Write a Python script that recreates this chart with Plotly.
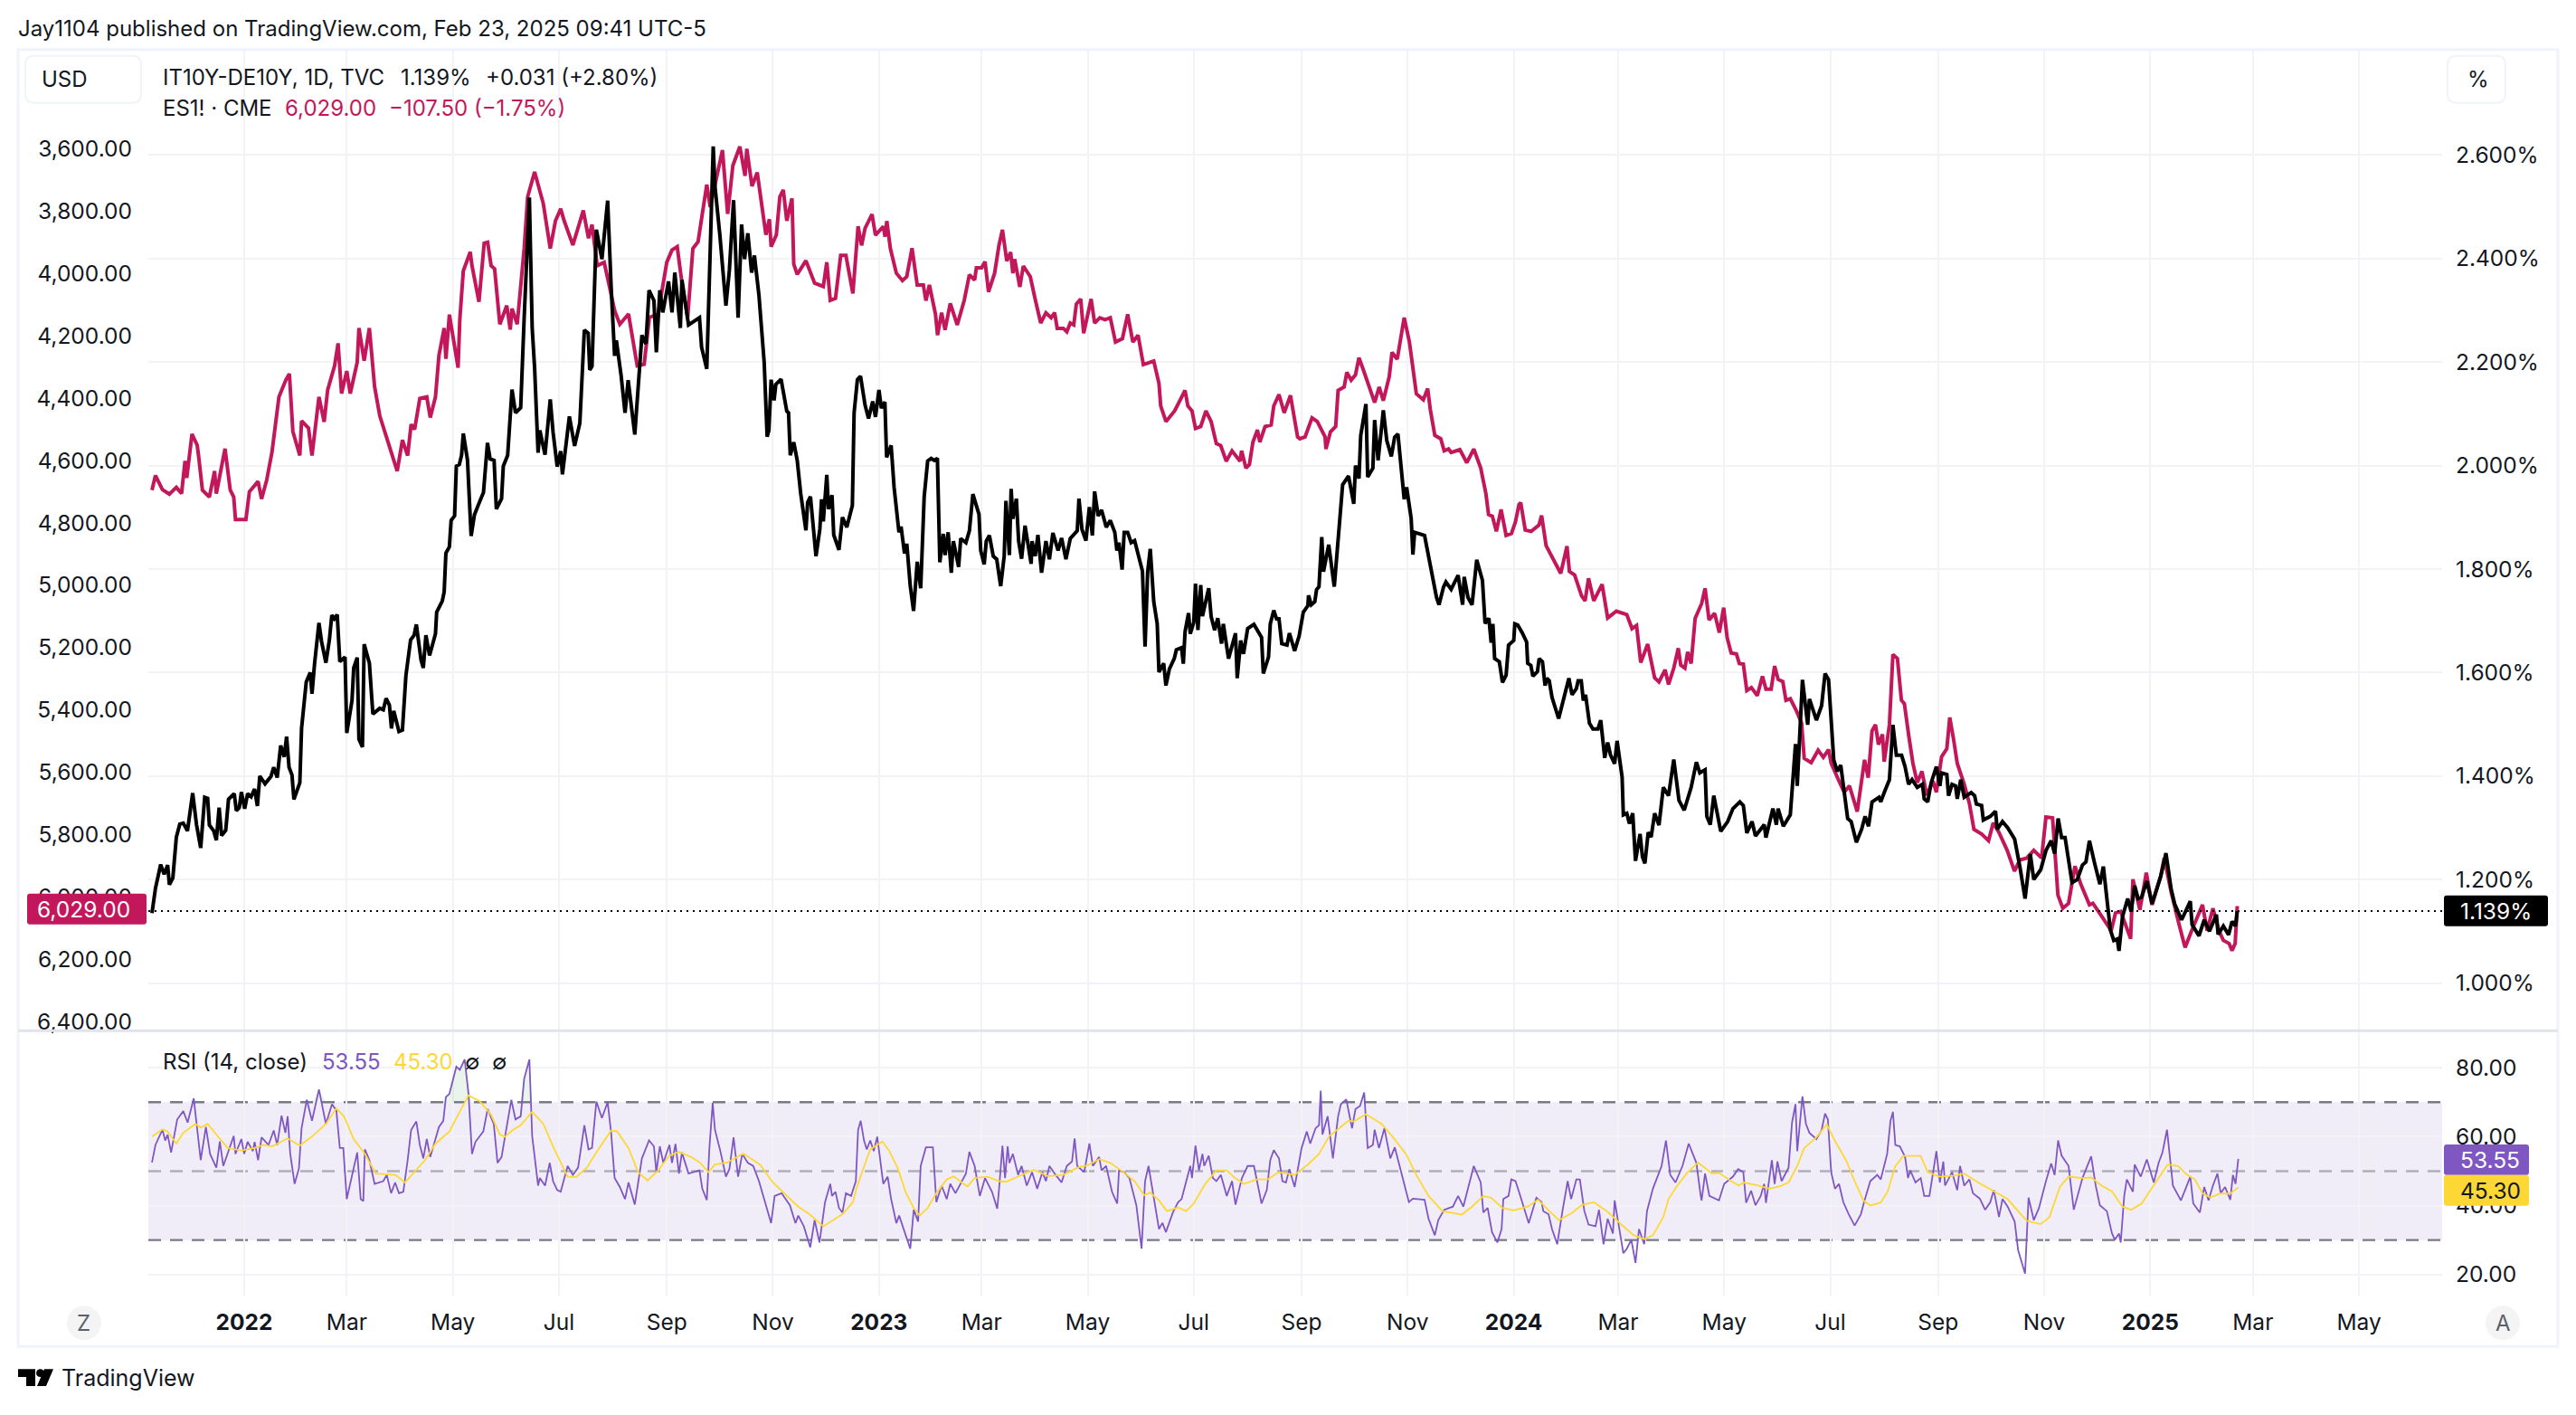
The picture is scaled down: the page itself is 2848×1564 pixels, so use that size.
import numpy as np
import pandas as pd
import plotly.graph_objects as go

W, H = 2848, 1564
ORIGIN = pd.Timestamp("2022-01-01")

INK = "#131722"
PINK = "#C2185B"
PURPLE = "#7E57C2"
YELLOW = "#FDD835"
GRID = "#F2F3F6"
FRAME = "#F0F3FA"

# (days since 2022-01-01, value)
es_points = [
    (-53, 4695), (-51, 4648), (-47, 4693), (-43, 4708), (-39, 4686), (-36, 4706), (-34, 4601), (-33, 4656),
    (-30, 4515), (-27, 4551), (-26, 4595), (-24, 4695), (-20, 4717), (-17, 4634), (-16, 4706), (-11, 4562),
    (-8, 4695), (-6, 4717), (-5, 4789), (1, 4789), (3, 4700), (8, 4667), (10, 4723), (13, 4662), (16, 4573),
    (20, 4396), (24, 4341), (26, 4322), (28, 4507), (32, 4584), (33, 4473), (37, 4496), (39, 4584), (43, 4396),
    (46, 4476), (48, 4374), (52, 4296), (54, 4224), (56, 4385), (59, 4313), (61, 4385), (65, 4285), (66, 4175),
    (69, 4280), (72, 4175), (75, 4363), (78, 4457), (81, 4512), (88, 4634), (91, 4534), (94, 4584), (96, 4484),
    (98, 4500), (101, 4401), (105, 4396), (107, 4462), (110, 4396), (112, 4263), (115, 4175), (116, 4274),
    (118, 4132), (123, 4302), (124, 4147), (126, 3992), (130, 3931), (131, 3975), (135, 4091), (138, 3903),
    (140, 3900), (142, 3975), (144, 3985), (147, 4163), (151, 4103), (153, 4180), (154, 4113), (157, 4163),
    (161, 3920), (163, 3754), (167, 3674), (172, 3776), (176, 3920), (179, 3831), (182, 3793), (184, 3831),
    (189, 3909), (195, 3798), (198, 3887), (200, 3843), (203, 3975), (207, 3964), (213, 4119), (216, 4163),
    (221, 4130), (226, 4296), (230, 4291), (233, 4141), (238, 4130), (243, 3964), (246, 3925), (249, 3914),
    (252, 4042), (255, 4141), (258, 3920), (261, 3898), (266, 3715), (268, 3787), (272, 3678), (275, 3604),
    (278, 3809), (281, 3654), (285, 3593), (288, 3687), (289, 3600), (292, 3720), (295, 3676), (300, 3876),
    (302, 3826), (303, 3914), (306, 3876), (308, 3754), (310, 3732), (312, 3831), (315, 3759), (316, 3970),
    (318, 4003), (323, 3959), (328, 4031), (333, 4042), (335, 3964), (337, 4086), (340, 4080), (343, 3942),
    (346, 3942), (350, 4064), (353, 3849), (355, 3910), (357, 3855), (361, 3810), (363, 3877), (367.5, 3849),
    (368.5, 3882), (369.5, 3832), (371.6, 3921), (375, 3999), (378.5, 4023), (381, 4010), (384, 3919),
    (387, 4037), (390.5, 4037), (392, 4087), (394, 4037), (397.5, 4131), (398.7, 4198), (401, 4126),
    (403, 4181), (406, 4096), (410, 4165), (414, 4087), (417, 4004), (420, 4021), (421, 3982), (424, 3982),
    (426, 3962), (428, 4059), (431.5, 3999), (434, 3910), (436, 3860), (438.5, 3960), (440.7, 3932),
    (442, 3999), (443, 3954), (446, 4043), (448, 3976), (452, 4010), (455, 4087), (458, 4159), (461, 4126),
    (464, 4142), (466, 4126), (467.5, 4176), (471, 4176), (473, 4187), (475, 4159), (477, 4165), (478.5, 4098),
    (481, 4082), (482.7, 4192), (487, 4082), (489, 4159), (492, 4142), (495, 4148), (498, 4142), (501, 4220),
    (505, 4209), (508, 4131), (511, 4220), (514, 4198), (517, 4292), (523, 4281), (526, 4353), (527, 4425),
    (530, 4475), (535, 4441), (541, 4375), (542.6, 4425), (545, 4441), (547, 4497), (550, 4491), (553, 4441),
    (556, 4475), (559, 4546), (561.5, 4552), (564.7, 4602), (568, 4569), (572.6, 4602), (573.5, 4569),
    (576, 4624), (578, 4613), (580, 4541), (582.6, 4502), (584, 4541), (587, 4491), (590.5, 4486), (592, 4425),
    (595, 4388), (598, 4447), (601.6, 4391), (605.7, 4524), (607, 4530), (610, 4524), (614, 4463), (617, 4475),
    (621.5, 4524), (622, 4563), (624.6, 4508), (627.6, 4491), (629, 4375), (632.5, 4364), (634, 4317),
    (636.5, 4342), (639, 4325), (641, 4270), (643.5, 4309), (646, 4353), (650, 4414), (652.6, 4364), (655, 4408),
    (658.4, 4331), (660, 4253), (663, 4275), (665, 4203), (667, 4142), (670, 4220), (674, 4386), (678, 4405),
    (680.5, 4369), (682, 4436), (684.6, 4519), (688, 4530), (690, 4569), (692.5, 4563), (694, 4574), (699, 4565),
    (703, 4607), (707, 4563), (709, 4596), (711, 4624), (714, 4707), (715.5, 4773), (717.7, 4779), (720, 4827),
    (722.7, 4757), (725.6, 4840), (728.7, 4834), (731, 4796), (733, 4741), (734, 4735), (736.6, 4823),
    (740, 4827), (744.5, 4807), (746, 4776), (748.6, 4873), (754, 4928), (757, 4962), (760.6, 4875), (762, 4956),
    (765, 4967), (769, 5034), (771, 5050), (773, 4978), (776, 5050), (780.8, 4997), (784, 5105), (789, 5083),
    (795, 5094), (798, 5139), (800.6, 5129), (803, 5248), (807, 5189), (811, 5297), (813.5, 5310), (817, 5271),
    (819, 5318), (822, 5266), (824.6, 5202), (826, 5256), (828.4, 5266), (830, 5214), (832, 5251), (834.3, 5106),
    (838, 5059), (840, 5010), (842.3, 5111), (845.5, 5090), (848.2, 5152), (850.7, 5072), (852.7, 5168),
    (855, 5217), (858, 5220), (859.7, 5251), (862, 5253), (864, 5338), (866.6, 5328), (870, 5354), (873, 5292),
    (875, 5333), (878, 5333), (880, 5259), (882, 5302), (884.7, 5309), (886.5, 5369), (889, 5364), (892.7, 5405),
    (895.5, 5442), (897, 5555), (901, 5569), (905, 5529), (908, 5552), (911, 5527), (912.5, 5571), (917, 5628),
    (920, 5664), (923, 5643), (927.5, 5726), (931.7, 5560), (933.8, 5617), (936, 5467), (938, 5447),
    (939.7, 5511), (942, 5478), (943, 5566), (946, 5447), (948, 5222), (950.6, 5235), (952.9, 5369),
    (954.6, 5380), (957, 5478), (959.5, 5571), (962, 5633), (964.7, 5597), (967.5, 5674), (971, 5628),
    (973, 5664), (976, 5550), (979, 5524), (980.7, 5424), (983, 5498), (985, 5571), (989, 5638), (992, 5700),
    (994.6, 5783), (999, 5798), (1003, 5819), (1005.7, 5762), (1009, 5793), (1013.7, 5850), (1017.9, 5917),
    (1021, 5881), (1025, 5875), (1029, 5850), (1033.5, 5875), (1036, 5743), (1039.8, 5746), (1042.9, 5994),
    (1045.7, 6036), (1049, 6020), (1052.7, 5901), (1056, 5958), (1061, 6025), (1063, 6020), (1068, 6061),
    (1073.5, 6108), (1076, 6051), (1079, 6046), (1084.7, 6134), (1086, 5943), (1090, 6041), (1093.7, 5922),
    (1097, 6025), (1102, 5932), (1104, 5875), (1108, 5984), (1112.5, 6087), (1116, 6162), (1120.5, 6098),
    (1126, 6025), (1128.7, 6108), (1132, 6036), (1135.5, 6108), (1138, 6139), (1141.3, 6149), (1143, 6172),
    (1144.8, 6149), (1146, 6029),
]

spread_points = [
    (-53, 1.135), (-51, 1.183), (-48, 1.229), (-46, 1.21), (-44, 1.228), (-43, 1.19), (-41, 1.203), (-39, 1.282),
    (-37, 1.307), (-35, 1.309), (-32.6, 1.294), (-29.6, 1.367), (-27.4, 1.306), (-25, 1.261), (-22.7, 1.359),
    (-21, 1.357), (-20, 1.305), (-17.5, 1.294), (-16, 1.276), (-14.4, 1.339), (-13, 1.285), (-10.6, 1.295),
    (-9, 1.355), (-5.7, 1.366), (-4.5, 1.333), (-2.8, 1.339), (-1.6, 1.369), (0.3, 1.337), (2, 1.366), (4, 1.36),
    (6, 1.375), (7.6, 1.342), (9, 1.40), (12, 1.385), (15.4, 1.399), (17, 1.417), (19, 1.397), (21, 1.459),
    (23, 1.437), (24.4, 1.476), (25.8, 1.417), (27.5, 1.402), (28.6, 1.355), (32, 1.387), (33, 1.492),
    (34.5, 1.546), (35.7, 1.582), (38, 1.60), (39, 1.559), (40.5, 1.618), (43, 1.696), (44.5, 1.66), (47, 1.619),
    (49, 1.663), (50.4, 1.711), (51.8, 1.704), (53.5, 1.712), (55, 1.621), (58, 1.63), (59, 1.483), (62, 1.546),
    (63, 1.609), (65, 1.629), (66, 1.471), (68, 1.456), (69, 1.655), (72, 1.618), (74, 1.52), (78, 1.531),
    (80, 1.528), (81.6, 1.55), (83.5, 1.537), (84.7, 1.492), (86, 1.526), (89, 1.486), (91, 1.489), (93, 1.594),
    (95.7, 1.663), (97.7, 1.672), (99, 1.693), (101.7, 1.624), (103, 1.609), (104.5, 1.672), (106.6, 1.633),
    (110, 1.675), (110.7, 1.717), (113.9, 1.738), (115, 1.756), (116, 1.831), (118, 1.843), (119, 1.894),
    (121, 1.903), (122, 1.999), (123.7, 2.002), (125, 2.02), (126, 2.062), (128.4, 2.011), (130.5, 1.864),
    (132.4, 1.905), (135, 1.927), (137.6, 1.948), (139.9, 2.044), (141.4, 2.013), (143.7, 2.01), (145, 1.916),
    (148, 1.936), (149, 1.999), (151.5, 2.02), (152.3, 2.062), (154, 2.147), (156, 2.102), (159, 2.112),
    (161, 2.286), (164, 2.518), (165.6, 2.266), (167, 2.189), (169, 2.025), (170, 2.068), (173, 2.021),
    (176, 2.128), (177.6, 2.065), (180, 1.998), (182, 2.028), (183, 1.983), (187, 2.095), (190, 2.038),
    (193, 2.082), (195.6, 2.262), (197.8, 2.256), (198.7, 2.185), (200, 2.192), (202.5, 2.456), (205.7, 2.399),
    (209, 2.512), (211, 2.346), (213, 2.212), (214, 2.242), (216.7, 2.175), (219, 2.102), (220.8, 2.165),
    (224.6, 2.06), (228.7, 2.252), (231, 2.235), (232.8, 2.339), (235.6, 2.319), (237, 2.219), (239, 2.339),
    (240.7, 2.296), (244, 2.356), (246, 2.296), (247.6, 2.373), (250.8, 2.266), (251.7, 2.359), (255.5, 2.272),
    (261.8, 2.286), (263, 2.229), (266, 2.187), (269.7, 2.617), (270.7, 2.54), (273.5, 2.446), (277, 2.309),
    (279, 2.378), (281.4, 2.513), (284, 2.286), (286, 2.466), (287.7, 2.399), (289.6, 2.449), (291.8, 2.373),
    (293.4, 2.406), (296, 2.329), (299, 2.2), (300.7, 2.056), (301.7, 2.068), (303, 2.166), (304.7, 2.126),
    (305.7, 2.157), (308.7, 2.167), (310.7, 2.131), (312, 2.105), (313, 2.102), (314, 2.02), (316, 2.045),
    (318, 2.01), (320, 1.946), (323, 1.875), (324, 1.929), (325.6, 1.94), (328.8, 1.825), (331, 1.877),
    (332, 1.935), (333, 1.892), (335, 1.982), (336, 1.916), (338, 1.943), (339, 1.866), (342, 1.837), (344, 1.9),
    (346.5, 1.881), (349.7, 1.923), (350.7, 2.102), (352.6, 2.166), (354.4, 2.173), (357, 2.117), (359, 2.091),
    (361.4, 2.124), (363, 2.094), (365, 2.146), (366.4, 2.111), (368.4, 2.123), (369.4, 2.016), (372, 2.039),
    (373.7, 1.958), (376.5, 1.871), (377.7, 1.882), (379.7, 1.83), (381, 1.849), (383, 1.767), (384.9, 1.719),
    (387, 1.814), (389, 1.763), (391, 1.94), (393, 2.009), (395, 2.014), (396.8, 2.01), (398.6, 2.014),
    (400, 1.813), (402, 1.868), (403, 1.827), (404.8, 1.871), (406.6, 1.793), (407.8, 1.854), (410.8, 1.804),
    (412, 1.859), (415, 1.851), (417, 1.874), (419, 1.945), (422.5, 1.906), (423.5, 1.836), (425.5, 1.809),
    (426.7, 1.854), (428.5, 1.865), (430.7, 1.825), (432.7, 1.819), (435, 1.767), (437, 1.825), (438, 1.932),
    (440, 1.827), (441, 1.955), (442, 1.897), (444, 1.936), (445.3, 1.854), (447, 1.82), (449, 1.884),
    (452.5, 1.81), (453, 1.854), (454.8, 1.825), (456.4, 1.866), (458.5, 1.793), (461, 1.854), (463, 1.819),
    (465, 1.87), (468, 1.836), (470, 1.86), (472.5, 1.819), (475, 1.859), (479, 1.874), (480, 1.936),
    (481.7, 1.877), (484, 1.855), (486, 1.92), (487.7, 1.865), (489, 1.95), (491, 1.903), (493, 1.914),
    (495.7, 1.881), (498, 1.894), (500.6, 1.871), (501.8, 1.836), (503, 1.851), (504.8, 1.799), (506, 1.871),
    (508, 1.871), (510, 1.851), (512, 1.855), (516.5, 1.796), (518, 1.65), (519.5, 1.795), (521, 1.839),
    (523, 1.737), (525, 1.694), (526, 1.601), (528.7, 1.618), (530, 1.575), (532, 1.607), (534.8, 1.627),
    (536, 1.644), (539, 1.648), (540, 1.617), (541, 1.679), (543, 1.715), (544, 1.675), (546, 1.697), (547, 1.772),
    (548.4, 1.682), (550, 1.769), (551, 1.709), (554.6, 1.763), (556, 1.708), (558, 1.682), (559.8, 1.705),
    (562, 1.656), (563, 1.694), (566, 1.627), (570, 1.676), (571, 1.589), (573, 1.662), (574.6, 1.636),
    (577, 1.685), (580.6, 1.693), (585, 1.668), (586, 1.598), (589, 1.63), (590, 1.694), (592, 1.72),
    (593.6, 1.704), (595, 1.704), (596.6, 1.656), (599.6, 1.653), (601, 1.676), (604, 1.642), (606.6, 1.671),
    (609, 1.717), (611.6, 1.729), (612, 1.749), (613.6, 1.731), (615.6, 1.737), (616.6, 1.76), (618, 1.766),
    (619.6, 1.862), (620.6, 1.795), (623.6, 1.847), (626.8, 1.766), (628.6, 1.842), (630, 1.90), (631.6, 1.963),
    (635, 1.98), (638, 1.926), (639, 2.0), (641, 1.975), (642, 2.058), (645, 2.119), (646, 1.978), (649, 1.995),
    (650, 2.088), (652, 2.01), (655, 2.107), (657, 2.048), (659.6, 2.018), (661.5, 2.055), (663.4, 2.061),
    (666, 1.958), (667, 1.935), (668.4, 1.958), (671, 1.898), (672, 1.828), (673, 1.871), (678.7, 1.865),
    (682, 1.805), (683, 1.791), (685.6, 1.745), (687, 1.731), (689.6, 1.765), (691, 1.775), (694, 1.761),
    (696.5, 1.778), (698, 1.788), (700.6, 1.731), (701.5, 1.785), (703.7, 1.745), (706, 1.731), (708.7, 1.818),
    (712, 1.778), (713.5, 1.695), (715.7, 1.705), (717, 1.658), (718, 1.694), (719, 1.627), (721.7, 1.621),
    (723.5, 1.581), (725.6, 1.595), (727, 1.653), (730, 1.662), (730.6, 1.694), (732.3, 1.692), (735, 1.676),
    (737.4, 1.659), (738, 1.618), (739.8, 1.614), (741, 1.593), (743.6, 1.602), (744.6, 1.627), (746.5, 1.621),
    (748, 1.575), (749, 1.589), (750.4, 1.584), (752, 1.552), (755.8, 1.511), (758.5, 1.546), (761.7, 1.589),
    (763.5, 1.557), (766, 1.569), (767, 1.584), (768.8, 1.584), (770, 1.546), (771.3, 1.557), (773.5, 1.502),
    (775.5, 1.491), (778.4, 1.491), (780, 1.508), (782.3, 1.435), (784, 1.465), (785.6, 1.441), (788, 1.424),
    (789.4, 1.468), (792.3, 1.398), (793, 1.325), (795, 1.328), (796.5, 1.308), (798.4, 1.328), (800, 1.236),
    (802.6, 1.288), (804, 1.244), (805.4, 1.231), (807.3, 1.291), (809, 1.282), (811, 1.328), (813.5, 1.305),
    (816, 1.378), (819, 1.362), (822, 1.432), (825, 1.353), (828, 1.334), (832, 1.378), (835, 1.427), (837, 1.406),
    (840, 1.412), (841, 1.322), (843, 1.306), (845, 1.362), (849, 1.293), (853, 1.312), (856, 1.337), (860, 1.35),
    (862, 1.343), (864, 1.29), (867, 1.312), (869, 1.284), (874, 1.306), (875, 1.281), (879, 1.337), (881, 1.306),
    (882, 1.337), (885, 1.303), (889, 1.325), (891, 1.418), (892, 1.462), (893, 1.381), (896, 1.586), (899, 1.499),
    (900, 1.549), (904, 1.508), (907, 1.536), (909, 1.598), (911, 1.586), (914, 1.431), (916, 1.409), (918, 1.421),
    (920, 1.368), (922, 1.318), (924, 1.312), (927, 1.272), (930, 1.297), (932, 1.322), (934, 1.303), (936, 1.35),
    (940, 1.359), (941, 1.35), (943, 1.368), (946, 1.393), (948, 1.499), (950, 1.44), (953, 1.44), (955, 1.418),
    (957, 1.384), (959, 1.393), (962, 1.378), (965, 1.384), (966, 1.356), (968, 1.35), (970, 1.387), (973, 1.418),
    (975, 1.381), (976, 1.406), (979, 1.403), (980, 1.362), (982, 1.384), (984, 1.381), (985, 1.356), (987, 1.393),
    (989, 1.359), (993, 1.368), (995, 1.362), (996, 1.346), (999, 1.343), (1000, 1.315), (1004, 1.322),
    (1007, 1.332), (1008, 1.297), (1011, 1.312), (1014, 1.3), (1018, 1.278), (1021, 1.225), (1024, 1.163),
    (1027, 1.249), (1029, 1.2), (1033, 1.219), (1036, 1.256), (1039, 1.275), (1041, 1.25), (1043, 1.318),
    (1045, 1.281), (1047, 1.281), (1051, 1.194), (1054, 1.2), (1057, 1.228), (1059, 1.234), (1061, 1.275),
    (1064, 1.231), (1067, 1.191), (1069, 1.225), (1072, 1.132), (1073, 1.103), (1075, 1.082), (1077, 1.085),
    (1078, 1.062), (1080, 1.128), (1083, 1.163), (1085, 1.138), (1087, 1.188), (1089, 1.163), (1091, 1.166),
    (1094, 1.197), (1097, 1.153), (1100, 1.188), (1102, 1.206), (1105, 1.251), (1108, 1.181), (1110, 1.153),
    (1114, 1.122), (1119, 1.158), (1120, 1.113), (1124, 1.091), (1127, 1.122), (1130, 1.1), (1134, 1.132),
    (1135, 1.094), (1138, 1.11), (1141, 1.093), (1143, 1.119), (1145, 1.11), (1146, 1.139),
]

rsi_points = [
    (-53, 52.5), (-51, 57.6), (-47, 62), (-45.4, 58.9), (-44, 60.6), (-42, 55.4), (-38.5, 65), (-35, 67.4),
    (-32.5, 64.1), (-29, 71.1), (-25, 53.2), (-22, 62.8), (-19.6, 55), (-16, 51), (-14, 58.6), (-12, 51.5),
    (-6, 60.2), (-5, 55), (-1.6, 59.3), (0, 55), (2, 58.5), (5, 55.8), (6, 58.5), (8, 53.2), (10, 59.8), (14, 57.6),
    (17, 61.8), (19, 57.6), (21.5, 66.1), (23.7, 61.1), (25, 65.9), (26.5, 55), (29, 46.3), (31.5, 50.8), (33, 62.4),
    (36, 70.7), (39, 64.6), (43, 73.7), (47, 63.7), (50.5, 69.4), (53, 67.6), (55, 56.7), (57, 56.7), (59, 41.9),
    (65, 55.4), (67, 41.9), (68.5, 41.3), (69.4, 56.3), (72, 53.2), (75, 46.3), (80, 47.1), (82, 48.9), (84.5, 43.6),
    (86.8, 46.7), (89, 43.6), (91.5, 44), (94, 53.2), (96, 61.9), (99, 64.4), (101, 57.6), (103, 53.7), (105, 59.3),
    (107, 54.1), (112, 62.8), (114.5, 64.6), (116, 71.5), (118, 72.4), (122, 80.3), (124, 79.4), (126.8, 82.4),
    (129, 72.4), (131, 55), (133, 58.5), (137.5, 61.5), (140, 68), (143.5, 63.7), (145.7, 52.4), (148, 54.1),
    (153.6, 70.7), (156, 65), (159, 65.9), (161, 76.8), (164, 82.4), (165.6, 60.2), (169, 45.8), (170, 48),
    (173, 45.8), (175.7, 52.4), (177.6, 47.1), (180, 44.5), (182, 44), (186, 51.5), (189, 48.9), (192, 51),
    (195.6, 63.3), (198, 56.3), (200, 56.7), (202.5, 70.2), (205.7, 65.4), (209, 70), (211, 61.1), (213, 48),
    (216, 45.4), (219, 41.9), (221, 46.7), (224.6, 40.3), (228.7, 53.7), (232.8, 58.9), (235.6, 57.2), (237, 49.7),
    (239, 57.2), (241, 52.4), (244.5, 57.6), (246, 52.4), (248, 57.9), (250, 49.3), (251.7, 55.4), (255.5, 49.3),
    (261.8, 50.2), (263.4, 44.9), (266, 41.6), (267.5, 56.7), (269.4, 69.8), (270.7, 62), (273.8, 55.8), (277, 48.4),
    (279, 50.6), (281.4, 59.8), (284, 48.4), (286.4, 55), (289.6, 52.4), (292.7, 51.5), (296, 47.1), (299, 41.9),
    (303, 34.9), (305, 42.8), (309, 43.6), (313.8, 40.1), (317, 34.9), (318.6, 37.1), (321.8, 34), (325.5, 27.9),
    (328, 35.8), (330.8, 29.3), (334, 41), (337, 46.3), (338, 42.8), (340, 44), (342, 39.3), (344, 38), (346, 43.6),
    (349, 42.8), (351.7, 47.1), (353, 61.9), (354.5, 64.6), (356.4, 58.9), (358, 56.3), (360, 58.9), (362, 55.8),
    (364, 60), (367.5, 46.3), (370, 48.4), (372, 41.9), (375, 34.9), (376.6, 37.1), (383, 27.5), (385, 38.8),
    (387.5, 35.4), (389, 51.5), (392, 56.9), (396, 56.9), (398, 41), (401, 45.8), (404, 41.9), (406, 46.3), (409, 43.6),
    (415, 49.3), (417, 55.6), (420, 51.5), (423, 42.8), (426, 48), (430, 44), (433, 39.1), (434, 44.5), (436, 57.4),
    (437.5, 48), (439, 57.2), (440, 52.4), (442, 55), (445, 48.9), (447, 51.5), (450, 45.8), (453, 49.7), (456, 44.9),
    (459, 49.7), (461, 47.1), (463, 51.5), (466.6, 48.9), (470, 46.7), (473, 51.5), (476, 52.8), (477.5, 59.5),
    (479, 51.5), (483, 49.7), (486, 58), (488, 51.5), (491.6, 54.1), (493, 50.2), (495.6, 51.5), (499, 44), (502, 40.6),
    (503, 50.2), (506, 49.7), (509, 48), (513, 40.1), (516, 27.5), (518, 47.1), (520, 51.5), (523, 42.8), (524, 39.3),
    (526, 33.2), (528, 35), (530, 32.3), (534, 38), (537, 41), (539, 41.9), (541.6, 46.7), (544, 51.5), (545, 48),
    (547, 57.4), (549, 50.2), (551, 55), (552, 51.5), (554.6, 54.5), (557, 48), (559, 47.1), (561.6, 48.9), (565, 42.8),
    (568, 47.1), (570, 40.3), (573.7, 48), (577, 51.5), (580.6, 51.5), (585, 40.6), (588, 44.5), (590, 53.2),
    (592, 56.1), (595, 53.7), (597, 47.1), (599, 46.7), (601, 50.6), (604, 45.4), (608, 56.7), (611, 61.5), (613, 58),
    (616, 62.4), (618, 63.3), (619, 73.3), (620, 60.6), (623, 65.9), (626, 53.7), (629, 65.9), (630.6, 69.4),
    (633.7, 70.8), (637, 62.4), (639, 68), (641.6, 68.9), (644, 72.8), (646, 56.7), (649, 57.6), (650, 62), (652.5, 56.7),
    (655.6, 62.4), (659, 53.7), (661.6, 56.9), (665, 50.2), (667, 46.3), (669.7, 41), (672, 42), (678.7, 41.7),
    (681, 36.2), (684.6, 31.4), (686.6, 35.8), (690, 38.8), (695, 39.7), (698, 42.8), (701, 39.7), (707, 51.5),
    (711, 46.7), (712.5, 38), (715, 39.3), (717.5, 32.3), (720.6, 29.3), (723, 33.2), (724, 41.9), (727, 42.8),
    (728.6, 47.6), (731, 47.1), (733, 44), (735.5, 39.7), (738.6, 34.9), (743, 42.3), (746, 41), (747, 38.4), (750, 37.5),
    (752, 33.2), (755, 28.8), (758, 38.4), (761, 47.1), (763, 41.9), (766, 47.6), (768, 47.6), (770.6, 38.4), (773, 34.5),
    (777, 34), (779, 38.8), (781.6, 28.8), (784, 36.2), (787, 31.9), (788, 41.5), (790, 34.9), (793, 26.2), (795, 27.5),
    (797.6, 30.1), (800, 23.4), (802, 33.2), (805, 28.8), (806.6, 38.4), (810, 44.9), (815, 51.5), (817.5, 58.9),
    (820, 48.9), (823, 46.7), (827, 51.5), (830.6, 58), (832.8, 55.4), (835, 52.4), (837.5, 42.8), (838, 41.5),
    (840, 49.3), (842.5, 42.8), (848, 41.5), (851, 46.3), (856, 48.4), (859, 50.6), (862, 49.7), (863.6, 40.8),
    (866.5, 44.3), (869, 40.1), (872, 42.8), (874, 46.3), (875, 40.8), (878.4, 53.2), (880, 46.3), (881.6, 52.8),
    (884, 47.1), (888, 51), (890, 64.1), (892, 69.4), (893, 55.8), (896, 71.7), (898, 63.7), (900, 61.1), (904, 59.3),
    (907, 61.9), (909, 66.7), (910.6, 65), (912.5, 49.7), (914.7, 44.9), (917, 46.3), (919.5, 41), (922.6, 37.5),
    (926, 34.2), (929.6, 37.5), (931.4, 41), (935, 47.1), (939, 48.9), (941, 47.6), (942.5, 50.6), (944.7, 55),
    (946.6, 64.6), (948, 67.2), (949.4, 57.6), (952, 57.2), (955, 54.1), (956.7, 48), (958, 50.2), (961, 46.7),
    (964, 48), (966, 42.8), (969, 42.8), (971, 49.7), (973, 55.8), (975, 46.7), (977, 52.8), (978, 45.8), (982, 49.7),
    (985, 44.5), (986.6, 51.5), (989, 45.8), (992, 47.6), (994, 43.6), (998, 42), (1001, 38.8), (1004, 41), (1006, 44.5),
    (1009, 36.7), (1011, 41.9), (1014, 39.7), (1018, 35.4), (1020, 27.1), (1024, 20.3), (1026, 42.3), (1029, 35.8),
    (1032, 39.3), (1036, 47.1), (1039, 52.2), (1041, 48.9), (1043, 58.9), (1045, 54.5), (1049, 51.5), (1052, 38.8),
    (1053.5, 41.5), (1057, 48), (1062, 54.3), (1064.6, 45.8), (1067, 40.1), (1071, 38.4), (1074, 31.9), (1075.6, 30.1),
    (1078, 31.9), (1079, 29.3), (1081, 42.8), (1082.5, 47.6), (1086, 44), (1087, 51.9), (1090.5, 48.4), (1094, 53.4),
    (1098, 46.7), (1100.8, 52.4), (1103, 55.4), (1105.6, 62), (1109, 45.8), (1113.6, 41.5), (1116, 44.5), (1119, 48.4),
    (1120.7, 40.6), (1124.5, 38), (1127, 45.4), (1129.5, 41.5), (1132, 45.8), (1134.6, 49.3), (1136.5, 43.6),
    (1139, 45.4), (1142, 41.7), (1143.5, 48.9), (1145, 46.3), (1146.6, 53.55),
]

rsi_ma_points = [
    (-53, 60), (-47, 62.1), (-44, 61.5), (-39, 58), (-35, 61.1), (-28, 63.7), (-25, 62.6), (-21, 63.7), (-16, 60.6),
    (-9.5, 56.7), (-1.6, 56), (6, 56.7), (11, 57.6), (16, 57.2), (25, 59.5), (32, 57.4), (39.4, 60.2), (47, 63.7),
    (53, 68.2), (57.4, 65.9), (63, 59.3), (69.4, 55), (75.7, 49.3), (82, 49), (87, 48.9), (92.4, 46.7), (98, 49.7),
    (104, 53.2), (110, 58), (118, 61.5), (123, 66.3), (129, 72), (135.6, 70.2), (142, 66.3), (147, 60.6), (150, 60),
    (154.6, 62), (159, 63.3), (165.6, 67.2), (172, 63.7), (178, 56.7), (183, 51.5), (186, 48.4), (191, 48.3), (197, 51),
    (203, 55.8), (211, 61.8), (214.5, 61.5), (221, 56.7), (226.5, 49.7), (232, 47.3), (238, 50.2), (244.5, 54.5),
    (250, 55.6), (257, 54.1), (262, 52.5), (267, 49.7), (270.7, 51.9), (277.6, 52.5), (287, 55.1), (296.6, 51.9),
    (304, 46.7), (312, 42.8), (318.6, 39.7), (325, 37.5), (333, 34), (337.5, 35.4), (344, 37.5), (350, 41), (352.5, 45.7),
    (355.6, 50.2), (360, 56.3), (367, 58.6), (371, 55.8), (376, 50.6), (380.6, 43.6), (385, 39.3), (388.4, 37.1),
    (393, 39.3), (398, 43.6), (404, 47.6), (408, 48.5), (413.4, 46.4), (416, 45.6), (420, 48), (427.5, 48.4), (434, 47.1),
    (438, 46.9), (445, 48.4), (454, 50.4), (462, 48.6), (471, 48.9), (479, 51), (485, 51.7), (491.6, 53.5), (498, 52.4),
    (505.6, 49.7), (512, 47.1), (517.5, 43), (521, 43.8), (526, 41.5), (530.6, 38.4), (537, 39.5), (541.6, 38.4),
    (546, 40.6), (552.6, 46.3), (559, 50.2), (565, 50.2), (569.7, 48), (575, 46.3), (582, 47.6), (588.4, 47.6), (595, 49.7),
    (604, 48.9), (611.6, 51.9), (618, 55), (624, 60.2), (635, 64.6), (638, 64.4), (645, 66.5), (654, 63.7), (660, 60.2),
    (668, 55), (674, 48.9), (681, 42.8), (689, 38.4), (700, 37.4), (706, 39.7), (712.5, 42.8), (717, 42.3), (723.5, 39.3),
    (730, 38.6), (738, 39.7), (744, 41.7), (750.5, 38.4), (756, 35.8), (763, 37.7), (769, 40.1), (776, 41), (783.5, 38.4),
    (791, 34.9), (799, 31.4), (805, 30.3), (810, 31.4), (816, 36.7), (819, 41.9), (824, 45.8), (830, 49.7), (836, 52.5),
    (844, 49.3), (848, 49.5), (855, 47.1), (859.5, 45.8), (862, 46.7), (869, 46), (877, 44.9), (883, 45.6), (888, 46.7),
    (893, 51.5), (897, 56.7), (904, 59.8), (910, 63.5), (915, 58.5), (921, 53.2), (926, 47.1), (931, 41.5), (935, 40),
    (941, 40.9), (945, 44.1), (949.4, 51.5), (954, 54.4), (964, 54.4), (968, 49.7), (975, 48.4), (983, 48.7), (989, 49.3),
    (997, 46.7), (1006, 44.1), (1014, 41.9), (1020, 38.4), (1025, 35.6), (1033, 34.6), (1038, 36.7), (1044, 45.4),
    (1049, 48.4), (1057, 48), (1062, 48.2), (1068, 45.8), (1074, 44.1), (1080, 39.7), (1085, 38.8), (1091, 40.6),
    (1096, 44.5), (1102.5, 49.3), (1106, 51.9), (1112, 51.5), (1117, 49), (1121.6, 47.6), (1126, 43.6), (1130.6, 42.3),
    (1136, 43.5), (1142, 43.5), (1146.6, 45.3),
]

month_ticks = ["2022-01-01", "2022-03-01", "2022-05-01", "2022-07-01", "2022-09-01", "2022-11-01",
               "2023-01-01", "2023-03-01", "2023-05-01", "2023-07-01", "2023-09-01", "2023-11-01",
               "2024-01-01", "2024-03-01", "2024-05-01", "2024-07-01", "2024-09-01", "2024-11-01",
               "2025-01-01", "2025-03-01", "2025-05-01"]
month_labels = ["<b>2022</b>", "Mar", "May", "Jul", "Sep", "Nov",
                "<b>2023</b>", "Mar", "May", "Jul", "Sep", "Nov",
                "<b>2024</b>", "Mar", "May", "Jul", "Sep", "Nov",
                "<b>2025</b>", "Mar", "May"]
price_ticks = [3600, 3800, 4000, 4200, 4400, 4600, 4800, 5000, 5200, 5400, 5600, 5800, 6000, 6200, 6400]
spread_ticks = [1.0, 1.2, 1.4, 1.6, 1.8, 2.0, 2.2, 2.4, 2.6]
spread_labels = ["1.000%", "1.200%", "1.400%", "1.600%", "1.800%", "2.000%", "2.200%", "2.400%", "2.600%"]
rsi_ticks = [20, 40, 60, 80]

LAST_SPREAD = 1.139
LAST_ES = 6029
LAST_RSI = 53.55
LAST_MA = 45.30


def to_dates(days):
    return ORIGIN + pd.to_timedelta(np.array(days, dtype=float), unit="D")


def px(x):
    return x / W


def py(y):
    return 1 - y / H


def rounded(x0, y0, x1, y1, r):
    # rounded box path in paper coordinates
    p = lambda x, y: f"{px(x)},{py(y)}"
    return (f"M{p(x0 + r, y0)} L{p(x1 - r, y0)} Q{p(x1, y0)} {p(x1, y0 + r)} L{p(x1, y1 - r)} "
            f"Q{p(x1, y1)} {p(x1 - r, y1)} L{p(x0 + r, y1)} Q{p(x0, y1)} {p(x0, y1 - r)} "
            f"L{p(x0, y0 + r)} Q{p(x0, y0)} {p(x0 + r, y0)} Z")


es_days, es_close = zip(*es_points)
spread_days, spread_close = zip(*spread_points)
rsi_days, rsi_close = zip(*rsi_points)
ma_days, ma_close = zip(*rsi_ma_points)

fig = go.Figure()

fig.add_trace(go.Scatter(x=to_dates(es_days), y=es_close, mode="lines", xaxis="x", yaxis="y",
                         line=dict(color=PINK, width=4)))
fig.add_trace(go.Scatter(x=to_dates(spread_days), y=spread_close, mode="lines", xaxis="x", yaxis="y2",
                         line=dict(color="#000000", width=4)))

# overbought tint between 70 and the RSI line
fig.add_trace(go.Scatter(x=to_dates(rsi_days), y=[70] * len(rsi_close), mode="lines", xaxis="x2", yaxis="y3",
                         line=dict(width=0), hoverinfo="skip"))
fig.add_trace(go.Scatter(x=to_dates(rsi_days), y=np.maximum(rsi_close, 70), mode="lines", xaxis="x2", yaxis="y3",
                         line=dict(width=0), fill="tonexty", fillcolor="rgba(76,175,80,0.12)", hoverinfo="skip"))
fig.add_trace(go.Scatter(x=to_dates(rsi_days), y=rsi_close, mode="lines", xaxis="x2", yaxis="y3",
                         line=dict(color=PURPLE, width=1.8)))
fig.add_trace(go.Scatter(x=to_dates(ma_days), y=ma_close, mode="lines", xaxis="x2", yaxis="y3",
                         line=dict(color=YELLOW, width=1.8)))

shapes = [
    # outer frame and pane separator
    dict(type="rect", xref="paper", yref="paper", x0=px(20), x1=px(2828), y0=py(55), y1=py(1493),
         line=dict(color=FRAME, width=3), layer="below"),
    dict(type="line", xref="paper", yref="paper", x0=px(20), x1=px(2828), y0=py(1143), y1=py(1143),
         line=dict(color="#E0E3EB", width=3), layer="above"),
    # RSI band
    dict(type="rect", xref="x2 domain", yref="y3", x0=0, x1=1, y0=30, y1=70,
         fillcolor="rgba(126,87,194,0.11)", line=dict(width=0), layer="below"),
    dict(type="line", xref="x2 domain", yref="y3", x0=0, x1=1, y0=70, y1=70,
         line=dict(color="#787B86", width=2.4, dash="14px,10px"), layer="below"),
    dict(type="line", xref="x2 domain", yref="y3", x0=0, x1=1, y0=30, y1=30,
         line=dict(color="#787B86", width=2.4, dash="14px,10px"), layer="below"),
    dict(type="line", xref="x2 domain", yref="y3", x0=0, x1=1, y0=50, y1=50,
         line=dict(color="rgba(120,123,134,0.55)", width=2.4, dash="14px,10px"), layer="below"),
    # last value line
    dict(type="line", xref="x domain", yref="y2", x0=0, x1=1, y0=LAST_SPREAD, y1=LAST_SPREAD,
         line=dict(color="#000000", width=2, dash="2px,5px"), layer="above"),
    # scale tags
    dict(type="path", xref="paper", yref="paper", path=rounded(30, 991, 162, 1025, 3), fillcolor=PINK,
         line=dict(width=0), layer="above"),
    dict(type="path", xref="paper", yref="paper", path=rounded(2702, 993, 2817, 1027, 3), fillcolor="#000000",
         line=dict(width=0), layer="above"),
    dict(type="path", xref="paper", yref="paper", path=rounded(2702, 1269, 2796, 1303, 3), fillcolor=PURPLE,
         line=dict(width=0), layer="above"),
    dict(type="path", xref="paper", yref="paper", path=rounded(2702, 1303, 2796, 1337, 3), fillcolor=YELLOW,
         line=dict(width=0), layer="above"),
    # buttons
    dict(type="path", xref="paper", yref="paper", path=rounded(28, 62, 156, 114, 10), fillcolor="#FFFFFF",
         line=dict(color=FRAME, width=2), layer="above"),
    dict(type="path", xref="paper", yref="paper", path=rounded(2706, 62, 2770, 114, 10), fillcolor="#FFFFFF",
         line=dict(color=FRAME, width=2), layer="above"),
    dict(type="circle", xref="paper", yref="paper", x0=px(74), x1=px(112), y0=py(1448), y1=py(1486),
         fillcolor="#F4F4F4", line=dict(width=0), layer="above"),
    dict(type="circle", xref="paper", yref="paper", x0=px(2748), x1=px(2786), y0=py(1448), y1=py(1486),
         fillcolor="#F4F4F4", line=dict(width=0), layer="above"),
    # TradingView mark
    dict(type="path", xref="paper", yref="paper", fillcolor="#000000", line=dict(width=0), layer="above",
         path=(f"M{px(20)},{py(1518)} L{px(39)},{py(1518)} L{px(39)},{py(1537)} L{px(29)},{py(1537)} "
               f"L{px(29)},{py(1527)} L{px(20)},{py(1527)} Z")),
    dict(type="circle", xref="paper", yref="paper", x0=px(40), x1=px(49), y0=py(1518), y1=py(1527),
         fillcolor="#000000", line=dict(width=0), layer="above"),
    dict(type="path", xref="paper", yref="paper", fillcolor="#000000", line=dict(width=0), layer="above",
         path=(f"M{px(49)},{py(1518)} L{px(59)},{py(1518)} L{px(51)},{py(1537)} L{px(41)},{py(1537)} Z")),
]

texts = [
    (20, 32, "Jay1104 published on TradingView.com, Feb 23, 2025 09:41 UTC-5", INK, 24),
    (46, 88, "USD", INK, 24),
    (2728, 88, "%", INK, 24),
    (180, 86, "IT10Y-DE10Y, 1D, TVC", INK, 24),
    (443, 86, "1.139%", INK, 24),
    (537, 86, "+0.031 (+2.80%)", INK, 24),
    (180, 120, "ES1! · CME", INK, 24),
    (315, 120, "6,029.00", PINK, 24),
    (430, 120, "−107.50 (−1.75%)", PINK, 24),
    (180, 1177, "RSI (14, close)", INK, 24),
    (356, 1177, "53.55", PURPLE, 24),
    (435, 1177, "45.30", YELLOW, 24),
    (514, 1177, "∅", INK, 24),
    (544, 1177, "∅", INK, 24),
    (85, 1467, "Z", "#5D606B", 24),
    (2759, 1467, "A", "#5D606B", 24),
    (68, 1528, "TradingView", INK, 25),
    (41, 1008, "6,029.00", "#FFFFFF", 24.5),
    (2720, 1010, "1.139%", "#FFFFFF", 24.5),
    (2720, 1286, "53.55", "#FFFFFF", 24.5),
    (2720, 1320, "45.30", "#131722", 24.5),
]
annotations = [
    dict(xref="paper", yref="paper", x=px(x), y=py(y), text=t, showarrow=False, xanchor="left", yanchor="middle",
         font=dict(family="Inter", size=s, color=c), borderpad=0, borderwidth=0)
    for x, y, t, c, s in texts
]

x_range = [ORIGIN + pd.Timedelta(days=-55.1), ORIGIN + pd.Timedelta(days=1263.8)]
x_dom = [px(164), px(2700)]
tick_font = dict(family="Inter", size=24.5, color=INK)

fig.update_layout(
    width=W,
    height=H,
    margin=dict(l=0, r=0, t=0, b=0),
    paper_bgcolor="#FFFFFF",
    plot_bgcolor="#FFFFFF",
    showlegend=False,
    font=dict(family="Inter", color=INK),
    shapes=shapes,
    annotations=annotations,
    xaxis=dict(domain=x_dom, range=x_range, anchor="y", type="date", tickvals=month_ticks, showticklabels=False,
               showgrid=True, gridcolor=GRID, gridwidth=2, zeroline=False, showline=False, ticks=""),
    xaxis2=dict(domain=x_dom, range=x_range, anchor="y3", type="date", tickvals=month_ticks, ticktext=month_labels,
                showgrid=True, gridcolor=GRID, gridwidth=2, zeroline=False, showline=False, ticks="",
                tickangle=0, tickfont=tick_font, ticklabelstandoff=12),
    yaxis=dict(domain=[py(1143), py(55)], range=[6429, 3282], anchor="x", side="left", tickvals=price_ticks,
               tickformat=",.2f", showgrid=False, zeroline=False, showline=False, ticks="",
               tickfont=tick_font, ticklabelstandoff=17),
    yaxis2=dict(domain=[py(1143), py(55)], range=[0.9076, 2.804], anchor="x", overlaying="y", side="right",
                tickvals=spread_ticks, ticktext=spread_labels, showgrid=True, gridcolor=GRID, gridwidth=2,
                zeroline=False, showline=False, ticks="", tickfont=tick_font, ticklabelstandoff=14),
    yaxis3=dict(domain=[py(1437), py(1143)], range=[13.8, 90.7], anchor="x2", side="right", tickvals=rsi_ticks,
                tickformat=".2f", showgrid=True, gridcolor=GRID, gridwidth=2, zeroline=False, showline=False,
                ticks="", tickfont=tick_font, ticklabelstandoff=14),
)

fig.write_html("out.html", config={"displayModeBar": False}, post_script="document.body.style.margin='0';")
